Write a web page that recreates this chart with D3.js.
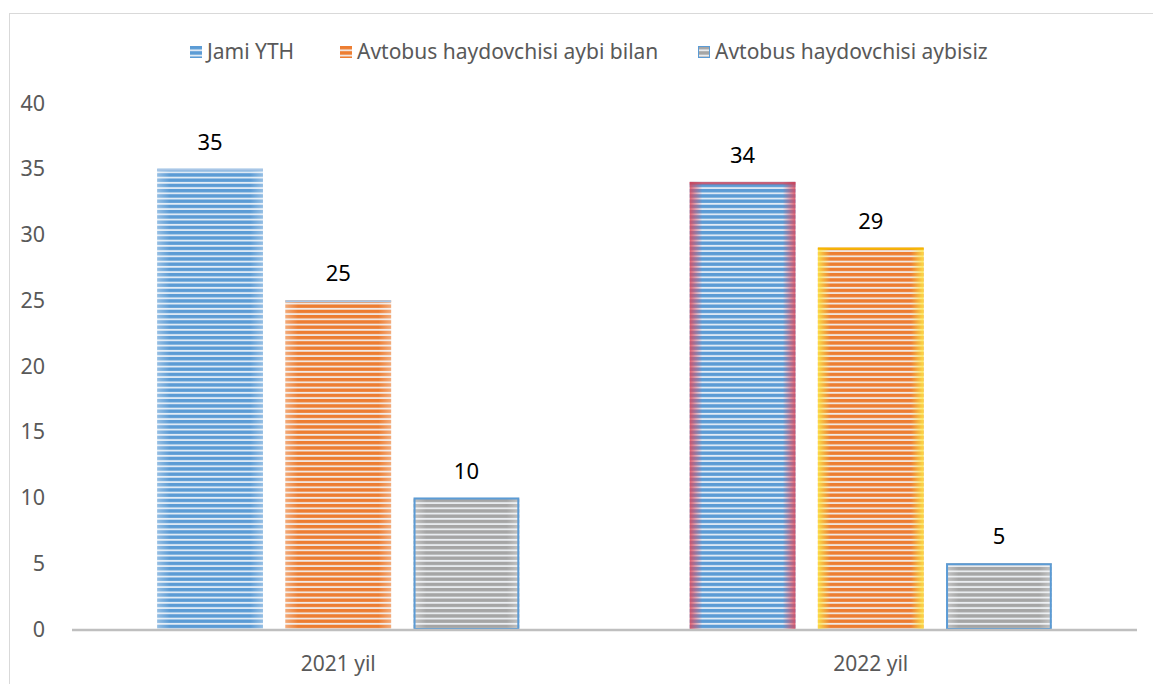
<!DOCTYPE html>
<html><head><meta charset="utf-8">
<script src="https://cdn.jsdelivr.net/npm/d3@7"></script>
<style>body{margin:0;background:#fff}svg{display:block}text{font-family:"Noto Sans","Open Sans",sans-serif}</style>
</head><body><svg id="c" width="1153" height="684"></svg>
<script>
const categories = ["2021 yil", "2022 yil"];
const seriesNames = ["Jami YTH", "Avtobus haydovchisi aybi bilan", "Avtobus haydovchisi aybisiz"];
const jamiYTH = [35, 34];
const aybiBilan = [25, 29];
const aybisiz = [10, 5];
const yTicks = [0, 5, 10, 15, 20, 25, 30, 35, 40];

const series = [jamiYTH, aybiBilan, aybisiz];
const baseColors = ["#5B9BD5", "#ED7D31", "#A5A5A5"];

const svg = d3.select("#c");
const W = 1153, H = 684;
const m = {left: 72, right: 16, top: 103, bottom: 55};
const x0 = d3.scaleBand().domain(categories).range([m.left, W - m.right]).paddingInner(0.32).paddingOuter(0.16);
const y = d3.scaleLinear().domain([0, 40]).range([H - m.bottom, m.top]);

// outer border
svg.append("rect").attr("x", 9.5).attr("y", 13.5).attr("width", 1200).attr("height", 700)
  .attr("fill", "none").attr("stroke", "#D9D9D9");

const defs = svg.append("defs");
baseColors.forEach((c, i) => {
  const p = defs.append("pattern").attr("id", "pat" + i).attr("patternUnits", "userSpaceOnUse")
    .attr("width", 8).attr("height", 5.25);
  p.append("rect").attr("width", 8).attr("height", 5.25).attr("fill", c);
  p.append("rect").attr("y", 3.4).attr("width", 8).attr("height", 1.8).attr("fill", "#F2F6FA").attr("opacity", 0.9);
});
function edgeGrad(id, color, edgeOp, midOp) {
  const g = defs.append("linearGradient").attr("id", id);
  [[0, edgeOp], [0.12, midOp], [0.88, midOp], [1, edgeOp]].forEach(([o, op]) =>
    g.append("stop").attr("offset", o).attr("stop-color", color).attr("stop-opacity", op));
}
edgeGrad("gWhite", "#ffffff", 0.35, 0);
edgeGrad("gRed", "#E0475A", 0.85, 0);
edgeGrad("gYellow", "#FFE94A", 0.85, 0);

const x1 = d3.scaleBand().domain(d3.range(series.length)).range([0, x0.bandwidth()]).paddingInner(0.175);

const bars = [];
categories.forEach((cat, ci) => {
  series.forEach((s, si) => bars.push({cat, ci, si, v: s[ci]}));
});

const g = svg.append("g");
bars.forEach(d => {
  const bx = x0(d.cat) + x1(d.si), bw = x1.bandwidth();
  const by = y(d.v), bh = y(0) - y(d.v);
  g.append("rect").attr("x", bx).attr("y", by).attr("width", bw).attr("height", bh).attr("fill", `url(#pat${d.si})`);
  let over = "gWhite";
  if (d.ci === 1 && d.si === 0) over = "gRed";
  if (d.ci === 1 && d.si === 1) over = "gYellow";
  g.append("rect").attr("x", bx).attr("y", by).attr("width", bw).attr("height", bh).attr("fill", `url(#${over})`);
  if (d.si === 2) {
    g.append("rect").attr("x", bx + 1).attr("y", by + 1).attr("width", bw - 2).attr("height", bh - 1)
      .attr("fill", "none").attr("stroke", "#5B9BD5").attr("stroke-width", 2);
  } else if (d.ci === 1 && d.si === 0) {
    g.append("rect").attr("x", bx).attr("y", by).attr("width", bw).attr("height", 2.5).attr("fill", "#C0405A").attr("opacity", 0.8);
  } else if (d.ci === 1 && d.si === 1) {
    g.append("rect").attr("x", bx).attr("y", by).attr("width", bw).attr("height", 2).attr("fill", "#F5B800");
  } else {
    g.append("rect").attr("x", bx).attr("y", by).attr("width", bw).attr("height", 2).attr("fill", "#A9C6E6");
  }
  svg.append("text").attr("x", bx + bw / 2).attr("y", by - 19).attr("text-anchor", "middle")
    .attr("font-size", 22).attr("fill", "#000").text(d.v);
});

// axis line
svg.append("line").attr("x1", m.left).attr("x2", W - m.right).attr("y1", y(0) + 1).attr("y2", y(0) + 1)
  .attr("stroke", "#BFBFBF").attr("stroke-width", 2.5);

// y tick labels
svg.append("g").selectAll("text").data(yTicks).join("text")
  .attr("x", 45).attr("y", d => y(d)).attr("dy", "0.35em").attr("text-anchor", "end")
  .attr("font-size", 21.5).attr("fill", "#595959").text(d => d);

// category labels
svg.append("g").selectAll("text").data(categories).join("text")
  .attr("x", d => x0(d) + x0.bandwidth() / 2).attr("y", 664).attr("dy", "0.35em").attr("text-anchor", "middle")
  .attr("font-size", 21).attr("fill", "#595959").text(d => d);

// legend
const legX = [190, 340, 698];
seriesNames.forEach((n, i) => {
  const lg = svg.append("g").attr("transform", `translate(${legX[i]},46)`);
  lg.append("rect").attr("width", 12).attr("height", 12).attr("fill", `url(#pat${i})`);
  if (i === 2) lg.append("rect").attr("x", 0.5).attr("y", 0.5).attr("width", 11).attr("height", 11)
    .attr("fill", "none").attr("stroke", "#5B9BD5");
  lg.append("text").attr("x", 17).attr("y", 6).attr("dy", "0.35em").attr("font-size", 21)
    .attr("fill", "#595959").text(n);
});
</script></body></html>
